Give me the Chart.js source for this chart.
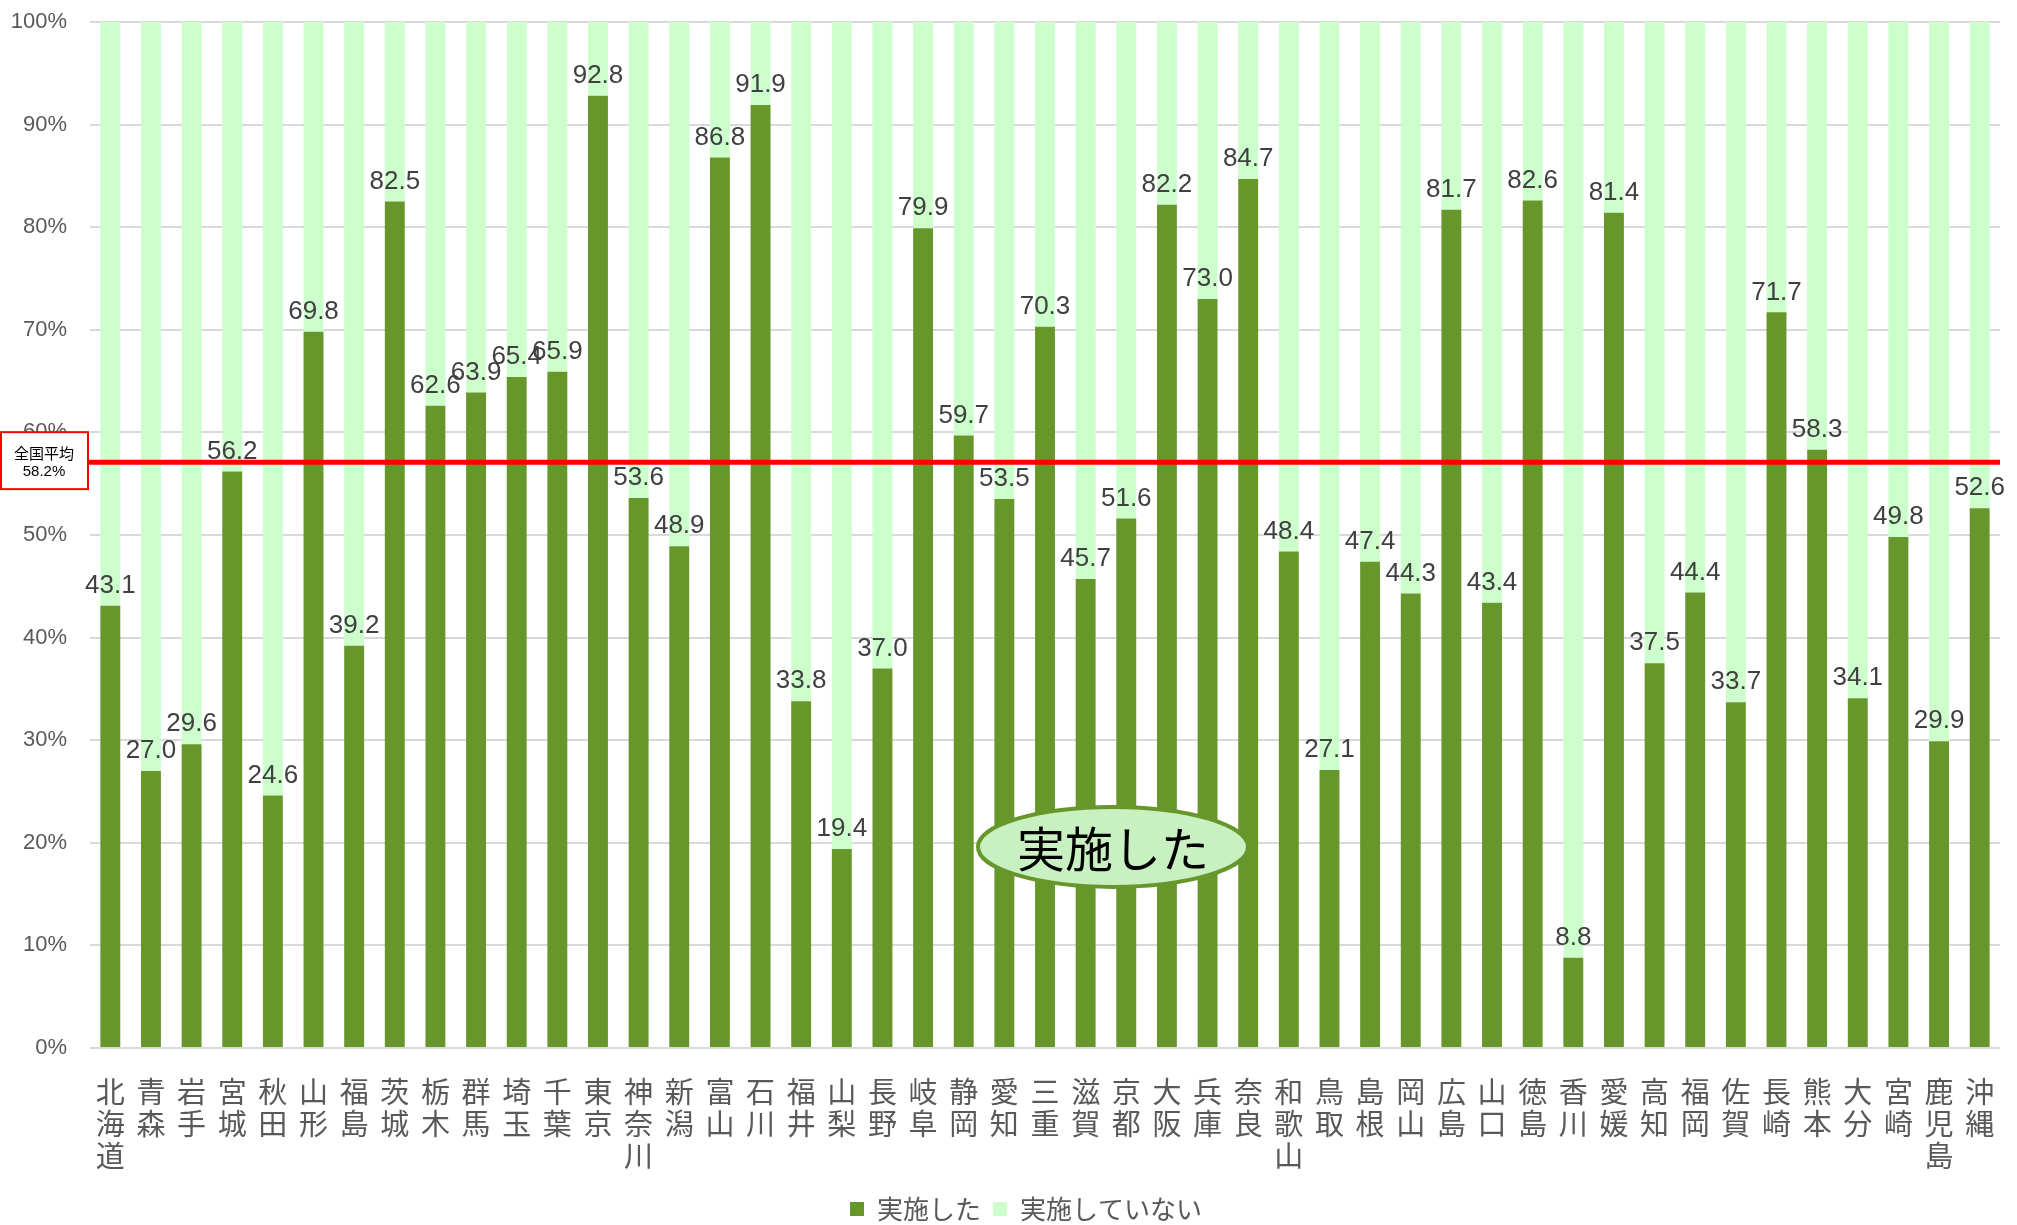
<!DOCTYPE html>
<html>
<head>
<meta charset="utf-8">
<script src="https://cdn.jsdelivr.net/npm/chart.js@4/dist/chart.umd.min.js"></script>
<style>
    html, body { margin: 0; padding: 0; background: #fff; }
</style>
</head>
<body>
<canvas id="chart" width="2017" height="1225"></canvas>
<script>
const prefectures = ['北海道', '青森', '岩手', '宮城', '秋田', '山形', '福島', '茨城', '栃木', '群馬',
    '埼玉', '千葉', '東京', '神奈川', '新潟', '富山', '石川', '福井', '山梨', '長野',
    '岐阜', '静岡', '愛知', '三重', '滋賀', '京都', '大阪', '兵庫', '奈良', '和歌山',
    '鳥取', '島根', '岡山', '広島', '山口', '徳島', '香川', '愛媛', '高知', '福岡',
    '佐賀', '長崎', '熊本', '大分', '宮崎', '鹿児島', '沖縄'];

const implemented = [43.1, 27.0, 29.6, 56.2, 24.6, 69.8, 39.2, 82.5, 62.6, 63.9,
    65.4, 65.9, 92.8, 53.6, 48.9, 86.8, 91.9, 33.8, 19.4, 37.0,
    79.9, 59.7, 53.5, 70.3, 45.7, 51.6, 82.2, 73.0, 84.7, 48.4,
    27.1, 47.4, 44.3, 81.7, 43.4, 82.6, 8.8, 81.4, 37.5, 44.4,
    33.7, 71.7, 58.3, 34.1, 49.8, 29.9, 52.6];

const notImplemented = [56.9, 73.0, 70.4, 43.8, 75.4, 30.2, 60.8, 17.5, 37.4, 36.1,
    34.6, 34.1, 7.2, 46.4, 51.1, 13.2, 8.1, 66.2, 80.6, 63.0,
    20.1, 40.3, 46.5, 29.7, 54.3, 48.4, 17.8, 27.0, 15.3, 51.6,
    72.9, 52.6, 55.7, 18.3, 56.6, 17.4, 91.2, 18.6, 62.5, 55.6,
    66.3, 28.3, 41.7, 65.9, 50.2, 70.1, 47.4];

const yTicks = [0, 10, 20, 30, 40, 50, 60, 70, 80, 90, 100];
const nationalAverage = 58.2;

const DARK = '#67972b';
const LIGHT = '#ccffcc';
const FONT = '"Liberation Sans", Arial, "Noto Sans CJK JP", sans-serif';
const JP_FONT = '"Noto Sans CJK JP", sans-serif';

// labels, average line, callout box and the ellipse note
const overlayPlugin = {
    id: 'overlay',
    afterLayout(chart) {
        // legend sits a little right of / below the default spot
        const lg = chart.legend;
        lg.left += 26; lg.right += 26;
        lg.top += 7; lg.bottom += 7;
    },
    afterDatasetsDraw(chart) {
        const { ctx, chartArea, scales } = chart;
        const meta = chart.getDatasetMeta(0);
        ctx.save();

        ctx.font = '26px ' + FONT;
        ctx.fillStyle = '#404040';
        ctx.textAlign = 'center';
        ctx.textBaseline = 'bottom';
        meta.data.forEach((bar, i) => {
            ctx.fillText(implemented[i].toFixed(1), bar.x, bar.y - 7);
        });

        // the drawn line sits a touch under the 58.2 mark in the original
        const ay = scales.y.getPixelForValue(nationalAverage - 1.1);
        ctx.strokeStyle = '#ff0000';
        ctx.lineWidth = 5;
        ctx.beginPath();
        ctx.moveTo(88, ay);
        ctx.lineTo(chartArea.right, ay);
        ctx.stroke();

        ctx.fillStyle = '#ffffff';
        ctx.lineWidth = 2;
        ctx.fillRect(1, ay - 30, 87, 57);
        ctx.strokeRect(1, ay - 30, 87, 57);
        ctx.fillStyle = '#000000';
        ctx.textBaseline = 'middle';
        ctx.font = '15px ' + JP_FONT;
        ctx.fillText('全国平均', 44, ay - 9);
        ctx.font = '15px ' + FONT;
        ctx.fillText(nationalAverage.toFixed(1) + '%', 44, ay + 10);

        const ex = chartArea.left + (chartArea.right - chartArea.left) * 0.5356;
        const ey = scales.y.getPixelForValue(19.6);
        ctx.beginPath();
        ctx.ellipse(ex, ey, 135, 40, 0, 0, Math.PI * 2);
        ctx.fillStyle = '#c8f0c0';
        ctx.fill();
        ctx.lineWidth = 4;
        ctx.strokeStyle = DARK;
        ctx.stroke();
        ctx.fillStyle = '#000000';
        ctx.font = '48px ' + JP_FONT;
        ctx.fillText('実施した', ex, ey + 2);

        ctx.restore();
    }
};

new Chart(document.getElementById('chart'), {
    type: 'bar',
    data: {
        labels: prefectures.map(p => p.split('')),
        datasets: [
            {
                label: '実施した',
                data: implemented,
                backgroundColor: DARK,
                barPercentage: 0.7,
                categoryPercentage: 0.7
            },
            {
                label: '実施していない',
                data: notImplemented,
                backgroundColor: LIGHT,
                barPercentage: 0.7,
                categoryPercentage: 0.7
            }
        ]
    },
    options: {
        responsive: false,
        animation: false,
        layout: { padding: { top: 22, right: 17, left: 0, bottom: 0 } },
        plugins: {
            tooltip: { enabled: false },
            legend: {
                position: 'bottom',
                labels: {
                    boxWidth: 14,
                    boxHeight: 14,
                    padding: 12,
                    color: '#595959',
                    font: { size: 26, family: JP_FONT }
                }
            }
        },
        scales: {
            x: {
                stacked: true,
                afterFit(scale) { scale.height = 129; scale.paddingTop = 0; },
                grid: { display: false },
                border: { display: false },
                ticks: {
                    autoSkip: false,
                    maxRotation: 0,
                    color: '#595959',
                    padding: 20,
                    font: { size: 29, family: JP_FONT, lineHeight: 1.1 }
                }
            },
            y: {
                stacked: true,
                min: 0,
                max: 100,
                afterFit(scale) { scale.width = 90; scale.paddingTop = 0; },
                afterBuildTicks(scale) { scale.ticks = yTicks.map(v => ({ value: v })); },
                grid: { color: '#d9d9d9', lineWidth: 2, drawTicks: false },
                border: { display: false },
                ticks: {
                    padding: 23,
                    color: '#595959',
                    font: { size: 22, family: FONT },
                    callback: v => v + '%'
                }
            }
        }
    },
    plugins: [overlayPlugin]
});
</script>
</body>
</html>
